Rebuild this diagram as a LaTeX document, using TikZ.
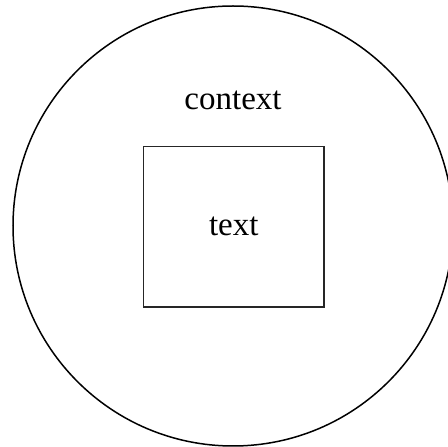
\documentclass[tikz,border=0pt]{standalone}
\usepackage{fontspec}
\setmainfont{Liberation Serif}
\begin{document}
\begin{tikzpicture}[x=1pt,y=1pt,
  ring/.style={draw=black,line width=1.5pt,circle,minimum size=440pt,inner sep=0pt},
  frame/.style={draw=black!85,line width=1.9pt,rectangle,minimum width=180.5pt,minimum height=160.5pt,inner sep=0pt,font=\fontsize{33}{36}\selectfont},
  lbl/.style={font=\fontsize{33}{36}\selectfont,inner sep=0pt}]
\useasboundingbox (0,0) rectangle (448,447);
\clip (0,0) rectangle (448,447);
\node[ring] (ctx) at (233,221) {};
\node[lbl,anchor=base] (ctxlabel) at (233,337) {context};
\node[frame] (txt) at (233.75,220.25) {text};
\end{tikzpicture}
\end{document}
